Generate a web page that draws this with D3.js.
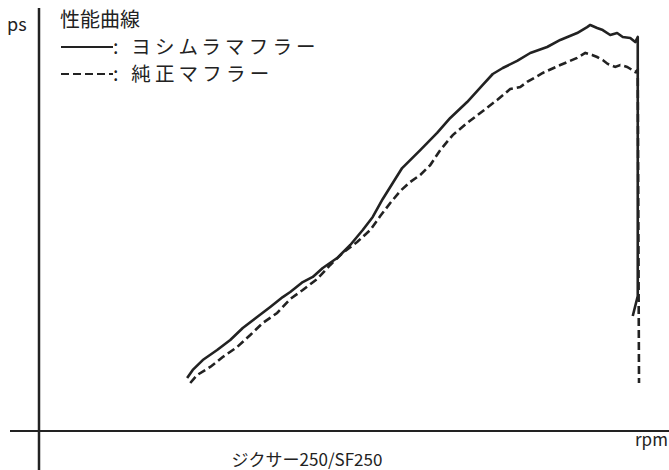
<!DOCTYPE html>
<html>
<head>
<meta charset="utf-8">
<script src="https://cdn.jsdelivr.net/npm/d3@7"></script>
<style>
  body { margin: 0; background: #fff; }
  text { font-family: "Noto Sans CJK JP", "Noto Sans", sans-serif; fill: #222; }
</style>
</head>
<body>
<svg id="chart" width="669" height="470"></svg>
<script>
// yoshimura muffler (solid) - rpm / ps
let yoshiRpm = [2370, 2460, 2620, 2850, 3060, 3260, 3490, 3700, 3900, 4020, 4220, 4380, 4540, 4770, 4980,
    5180, 5340, 5500, 5660, 5810, 6100, 6370, 6580, 6850, 7100, 7260, 7420, 7650, 7860, 8130,
    8340, 8610, 8770, 8820, 8930, 9020, 9140, 9250, 9340, 9460, 9540, 9580, 9580, 9500];
let yoshiPs = [3.53, 4.07, 4.73, 5.40, 6.07, 6.87, 7.60, 8.27, 8.93, 9.27, 9.93, 10.27, 10.87, 11.53, 12.40,
    13.40, 14.27, 15.47, 16.53, 17.53, 18.73, 19.87, 20.87, 21.93, 23.07, 23.80, 24.20, 24.67, 25.20, 25.60,
    26.07, 26.53, 26.93, 27.07, 26.87, 26.73, 26.40, 26.53, 26.27, 26.20, 25.93, 26.27, 9.00, 7.67];

// stock muffler (dashed)
let stockRpm = [2420, 2530, 2740, 2940, 3170, 3380, 3580, 3810, 4020, 4220, 4450, 4660, 4860, 5090, 5300,
    5460, 5620, 5780, 5940, 6100, 6260, 6420, 6620, 6850, 7060, 7330, 7540, 7700, 7810, 8060,
    8340, 8610, 8740, 8850, 8930, 9020, 9100, 9220, 9300, 9410, 9490, 9540, 9580, 9600];
let stockPs = [3.20, 3.73, 4.27, 4.93, 5.60, 6.40, 7.20, 7.87, 8.80, 9.40, 10.13, 11.07, 11.87, 12.60, 13.40,
    14.33, 15.20, 16.00, 16.60, 17.07, 17.73, 18.73, 19.73, 20.53, 21.20, 22.07, 22.80, 22.93, 23.27, 23.87,
    24.40, 24.87, 25.20, 25.07, 24.93, 24.73, 24.47, 24.27, 24.40, 24.27, 24.07, 23.93, 24.07, 3.20];

let legendTitle = "性能曲線";
let seriesNames = [": ヨシムラマフラー", ": 純正マフラー"];
let yLabel = "ps";
let xLabel = "rpm";
let chartTitle = "ジクサー250/SF250";

var svg = d3.select("#chart");

var x = d3.scaleLinear().domain([0, 10080]).range([39, 669]);
var y = d3.scaleLinear().domain([0, 28]).range([431, 11]);

var line = d3.line()
    .x(function(d) { return x(d[0]); })
    .y(function(d) { return y(d[1]); });

let yoshi = yoshiRpm.map(function(r, i) { return [r, yoshiPs[i]]; });
let stock = stockRpm.map(function(r, i) { return [r, stockPs[i]]; });

// axes: plain lines, no ticks
svg.append("line")
    .attr("x1", x(0)).attr("x2", x(0))
    .attr("y1", 8).attr("y2", 470)
    .style("stroke", "#222").style("stroke-width", 2.5);

svg.append("line")
    .attr("x1", 10).attr("x2", 669)
    .attr("y1", y(0)).attr("y2", y(0))
    .style("stroke", "#222").style("stroke-width", 2);

svg.append("path")
    .datum(stock)
    .attr("d", line)
    .style("fill", "none")
    .style("stroke", "#222")
    .style("stroke-width", 2.6)
    .style("stroke-dasharray", "8,4");

svg.append("path")
    .datum(yoshi)
    .attr("d", line)
    .style("fill", "none")
    .style("stroke", "#222")
    .style("stroke-width", 2.6)
    .style("stroke-linejoin", "round");

// labels
svg.append("text").attr("x", 7).attr("y", 31).style("font-size", "18px").text(yLabel);
svg.append("text").attr("x", 635).attr("y", 446).style("font-size", "17px").text(xLabel);
svg.append("text").attr("x", 307).attr("y", 466)
    .attr("text-anchor", "middle")
    .style("font-size", "17px")
    .text(chartTitle);

// legend
svg.append("text").attr("x", 60).attr("y", 27).style("font-size", "20px").text(legendTitle);

let legendRows = [
    {y: 47, dash: null},
    {y: 74, dash: "8,4"}
];
legendRows.forEach(function(row, i) {
    svg.append("line")
        .attr("x1", 61).attr("x2", 113).attr("y1", row.y).attr("y2", row.y)
        .style("stroke", "#222").style("stroke-width", 2)
        .style("stroke-dasharray", row.dash);
    svg.append("text").attr("x", 113).attr("y", row.y + 7)
        .style("font-size", "19.5px")
        .style("letter-spacing", "4.2px")
        .text(seriesNames[i]);
});
</script>
</body>
</html>
